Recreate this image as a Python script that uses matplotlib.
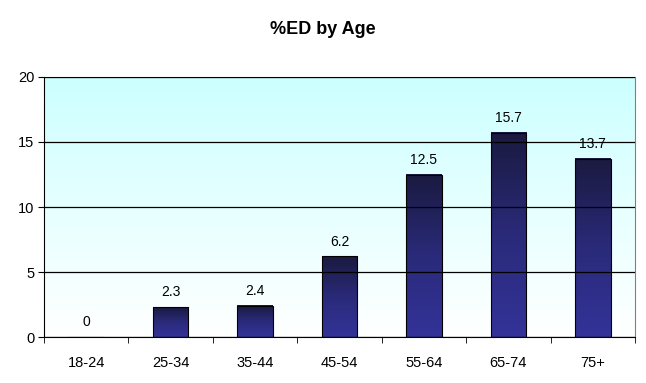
import matplotlib
matplotlib.use("Agg")
import matplotlib.pyplot as plt
import numpy as np
from matplotlib.colors import LinearSegmentedColormap

plt.rcParams['font.family'] = ['Liberation Sans', 'DejaVu Sans']

ages = ["18-24", "25-34", "35-44", "45-54", "55-64", "65-74", "75+"]
pct_ed = [0, 2.3, 2.4, 6.2, 12.5, 15.7, 13.7]

fig = plt.figure(figsize=(6.46, 3.83), dpi=100)
ax = fig.add_axes([0.068, 0.12, 0.915, 0.679])

# plot area background: cyan at top fading to white
bg_cmap = LinearSegmentedColormap.from_list("bg", ["#ffffff", "#e6ffff", "#ccffff"])
grad = np.linspace(0, 1, 256).reshape(-1, 1)
ax.imshow(grad, aspect="auto", cmap=bg_cmap, origin="lower",
          extent=[0, 1, 0, 1], transform=ax.transAxes, zorder=0)

x = np.arange(len(ages))
bars = ax.bar(x, pct_ed, width=0.42, color="none", edgecolor="#000000",
              linewidth=0.8, zorder=3)

bar_cmap = LinearSegmentedColormap.from_list("bar", ["#333399", "#2a2a7a", "#1a1a40"])
for b in bars:
    h = b.get_height()
    if h <= 0:
        continue
    ax.imshow(grad, aspect="auto", cmap=bar_cmap, origin="lower",
              extent=[b.get_x(), b.get_x() + b.get_width(), 0, h], zorder=2)

for xi, v in zip(x, pct_ed):
    ax.text(xi, v + 0.6, f"{v:g}", ha="center", va="bottom", fontsize=10, zorder=4)

ax.set_xlim(-0.5, len(ages) - 0.5)
ax.set_ylim(0, 20)
ax.set_yticks([0, 5, 10, 15, 20])
ax.yaxis.grid(True, color="#000000", linewidth=0.9, zorder=1)
ax.set_axisbelow(False)
for gl in ax.get_ygridlines():
    gl.set_zorder(1)

ax.set_xticks(x)
ax.set_xticklabels(ages, fontsize=10.5)
ax.set_xticks(np.arange(-0.5, len(ages)), minor=True)
ax.tick_params(axis="x", which="major", length=0, pad=14)
ax.tick_params(axis="x", which="minor", length=4, direction="out", color="#000000")
ax.tick_params(axis="y", length=4, direction="out", labelsize=10.5, pad=3)

ax.spines["left"].set_color("#000000")
ax.spines["bottom"].set_color("#000000")
ax.spines["top"].set_color("#808080")
ax.spines["right"].set_color("#808080")

fig.text(0.5, 0.922, "%ED by Age", ha="center", va="center",
         fontsize=13, fontweight="bold")

fig.savefig("out.png", dpi=100)
